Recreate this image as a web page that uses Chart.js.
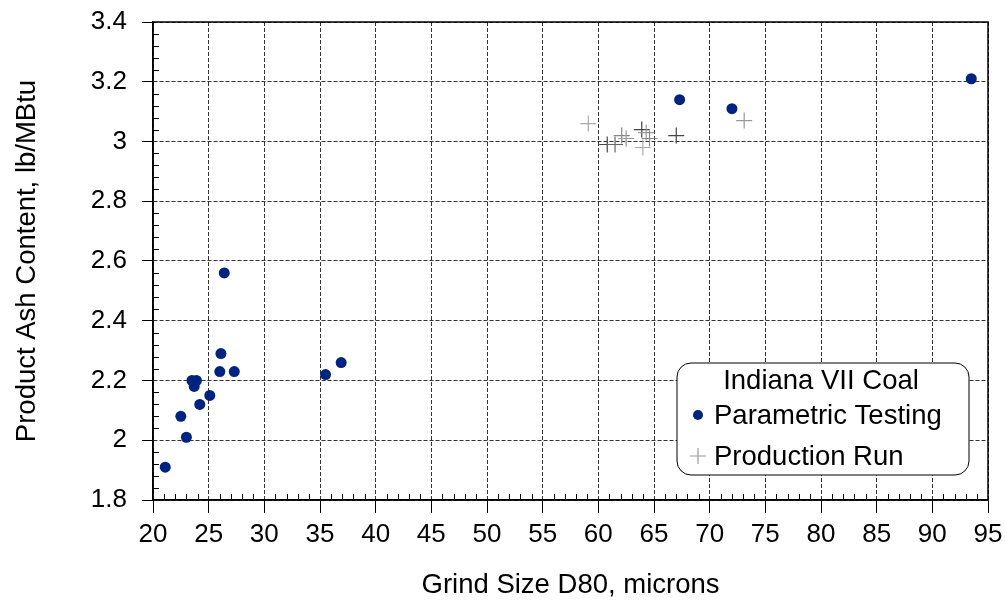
<!DOCTYPE html>
<html lang="en">
<head>
  <meta charset="UTF-8" />
  <title>Product Ash Content vs Grind Size</title>
  <script src="https://cdn.jsdelivr.net/npm/chart.js"></script>
  <style>
    html, body { margin: 0; padding: 0; background: #fff; }
    #wrap { width: 1006px; height: 600px; }
  </style>
</head>
<body>
<div id="wrap"><canvas id="ashChart" width="1006" height="600"></canvas></div>

<script>
  // Parametric testing runs (grind size D80 in microns, ash in lb/MBtu)
  const paramX = [21.1, 22.5, 23.0, 23.5, 23.9, 23.7, 24.2, 25.1, 26.0, 26.1, 26.4, 27.3, 35.5, 36.9, 67.3, 72.0, 93.5];
  const paramY = [1.91, 2.08, 2.01, 2.20, 2.20, 2.18, 2.12, 2.15, 2.23, 2.29, 2.56, 2.23, 2.22, 2.26, 3.14, 3.11, 3.21];

  // Production run samples
  const prodX = [59.1, 60.8, 61.5, 62.1, 62.5, 63.9, 64.0, 64.3, 64.6, 67.0, 73.1];
  const prodY = [3.06, 2.99, 2.99, 3.02, 3.01, 3.04, 2.98, 3.03, 3.01, 3.02, 3.07];
  const prodShades = ['#aaa', '#444', '#666', '#888', '#999', '#444', '#aaa', '#999', '#888', '#444', '#999'];

  const xTicksMin = 20, xTicksMax = 95, xStep = 5;
  const yTicksMin = 1.8, yTicksMax = 3.4, yStep = 0.2;

  const legendTitle = 'Indiana VII Coal';
  const FONT = '"Liberation Sans", Arial, Helvetica, sans-serif';

  const toPoints = (xs, ys) => xs.map((x, i) => ({ x: x, y: ys[i] }));

  // minor ticks inside the axes + solid frame round the plot
  const framePlugin = {
    id: 'frame',
    afterDatasetsDraw(chart) {
      const { ctx, chartArea: a, scales: { x, y } } = chart;
      ctx.save();
      ctx.strokeStyle = '#000';
      ctx.lineWidth = 1;
      ctx.beginPath();
      for (let v = xTicksMin + 1; v < xTicksMax; v++) {
        if (v % xStep === 0) continue;
        const px = Math.round(x.getPixelForValue(v)) + 0.5;
        ctx.moveTo(px, a.bottom);
        ctx.lineTo(px, a.bottom - 6);
      }
      const ySteps = Math.round((yTicksMax - yTicksMin) / 0.04);
      for (let i = 1; i < ySteps; i++) {
        if (i % 5 === 0) continue;
        const py = Math.round(y.getPixelForValue(yTicksMin + i * 0.04)) + 0.5;
        ctx.moveTo(a.left, py);
        ctx.lineTo(a.left + 6, py);
      }
      ctx.stroke();

      ctx.lineWidth = 1.5;
      ctx.strokeRect(a.left, a.top, a.right - a.left, a.bottom - a.top);
      ctx.restore();
    }
  };

  // boxed legend with rounded corners inside the plot
  const boxLegendPlugin = {
    id: 'boxLegend',
    afterDraw(chart) {
      const { ctx } = chart;
      const bx = 677, by = 363, bw = 292, bh = 112, r = 14;
      ctx.save();
      ctx.beginPath();
      ctx.roundRect(bx, by, bw, bh, r);
      ctx.fillStyle = '#fff';
      ctx.fill();
      ctx.strokeStyle = '#000';
      ctx.lineWidth = 1;
      ctx.stroke();

      ctx.fillStyle = '#000';
      ctx.font = '27.5px ' + FONT;
      ctx.textBaseline = 'alphabetic';
      ctx.textAlign = 'center';
      ctx.fillText(legendTitle, bx + bw / 2 - 2, by + 26);

      ctx.textAlign = 'left';
      const ds = chart.data.datasets;
      const rows = [424, 465];
      ds.forEach((d, i) => {
        const cy = rows[i] - 9;
        const cx = 698;
        ctx.beginPath();
        if (d.pointStyle === 'cross') {
          ctx.strokeStyle = '#999';
          ctx.lineWidth = 1.2;
          ctx.moveTo(cx - 8, cy); ctx.lineTo(cx + 8, cy);
          ctx.moveTo(cx, cy - 8); ctx.lineTo(cx, cy + 8);
          ctx.stroke();
        } else {
          ctx.fillStyle = d.backgroundColor;
          ctx.arc(cx, cy, 5, 0, Math.PI * 2);
          ctx.fill();
        }
        ctx.fillStyle = '#000';
        ctx.fillText(d.label, 714, rows[i]);
      });
      ctx.restore();
    }
  };

  new Chart(document.getElementById('ashChart'), {
    type: 'scatter',
    data: {
      datasets: [
        {
          label: 'Parametric Testing',
          data: toPoints(paramX, paramY),
          pointStyle: 'circle',
          pointRadius: 5.5,
          pointHoverRadius: 5.5,
          backgroundColor: '#00237f',
          borderWidth: 0
        },
        {
          label: 'Production Run',
          data: toPoints(prodX, prodY),
          pointStyle: 'cross',
          pointRadius: 8,
          pointHoverRadius: 8,
          borderColor: prodShades,
          pointBorderColor: prodShades,
          borderWidth: 1.2
        }
      ]
    },
    options: {
      responsive: false,
      animation: false,
      layout: { padding: { top: 22, right: 18, left: 0, bottom: 0 } },
      plugins: {
        legend: { display: false },
        tooltip: { enabled: false }
      },
      scales: {
        x: {
          type: 'linear',
          min: xTicksMin,
          max: xTicksMax,
          afterFit: s => { s.height = 100; s.paddingLeft = 0; s.paddingRight = 0; },
          ticks: {
            stepSize: xStep,
            color: '#000',
            padding: 6,
            maxRotation: 0,
            font: { family: FONT, size: 26 }
          },
          grid: {
            color: '#333',
            lineWidth: 1,
            tickColor: '#000',
            tickLength: 13,
            tickWidth: 1,
            tickBorderDash: []
          },
          border: { color: '#000', width: 1.5, dash: [4, 2] },
          title: {
            display: true,
            text: 'Grind Size D80, microns',
            color: '#000',
            font: { family: FONT, size: 27.5 },
            padding: { top: 0, bottom: -2 }
          }
        },
        y: {
          type: 'linear',
          min: yTicksMin,
          max: yTicksMax,
          afterFit: s => { s.width = 153; s.paddingTop = 0; s.paddingBottom = 0; },
          ticks: {
            stepSize: yStep,
            color: '#000',
            padding: 15,
            font: { family: FONT, size: 26 },
            callback: v => String(+v.toFixed(1))
          },
          grid: {
            color: '#333',
            lineWidth: 1,
            tickColor: '#000',
            tickLength: 11,
            tickWidth: 1,
            tickBorderDash: []
          },
          border: { color: '#000', width: 1.5, dash: [4, 2] },
          title: {
            display: true,
            text: 'Product Ash Content, lb/MBtu',
            color: '#000',
            font: { family: FONT, size: 27.5 },
            padding: { top: 11, bottom: 0 }
          }
        }
      }
    },
    plugins: [framePlugin, boxLegendPlugin]
  });
</script>
</body>
</html>
